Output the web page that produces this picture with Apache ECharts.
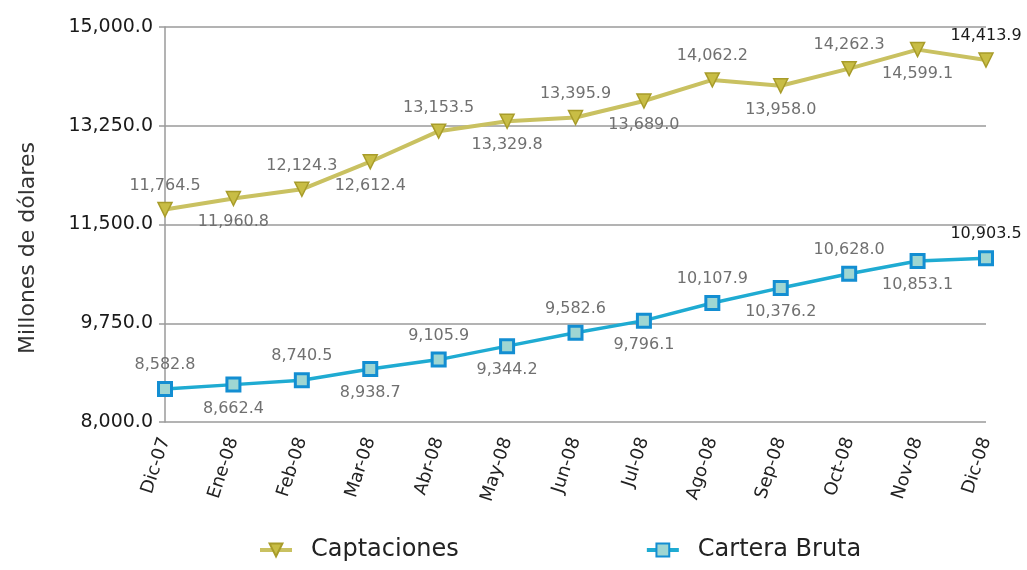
<!DOCTYPE html>
<html>
<head>
<meta charset="utf-8">
<script src="https://cdn.jsdelivr.net/npm/echarts@6/dist/echarts.min.js"></script>
<style>
  html, body { margin: 0; padding: 0; background: #fff; }
  #chart { width: 1027px; height: 570px; }
</style>
</head>
<body>
<div id="chart"></div>
<script>
const months = ['Dic-07', 'Ene-08', 'Feb-08', 'Mar-08', 'Abr-08', 'May-08', 'Jun-08',
  'Jul-08', 'Ago-08', 'Sep-08', 'Oct-08', 'Nov-08', 'Dic-08'];
const captaciones = [11764.5, 11960.8, 12124.3, 12612.4, 13153.5, 13329.8, 13395.9,
  13689.0, 14062.2, 13958.0, 14262.3, 14599.1, 14413.9];
const carteraBruta = [8582.8, 8662.4, 8740.5, 8938.7, 9105.9, 9344.2, 9582.6,
  9796.1, 10107.9, 10376.2, 10628.0, 10853.1, 10903.5];
const yTicks = [8000, 9750, 11500, 13250, 15000];

const font = 'DejaVu Sans';
const fmt = (v) => v.toLocaleString('en-US', { minimumFractionDigits: 1, maximumFractionDigits: 1 });

// labels alternate above / below the points, last one is darker
const withLabels = (values) => values.map((v, i) => ({
  value: v,
  label: {
    position: i % 2 === 0 ? 'top' : 'bottom',
    color: i === values.length - 1 ? '#1a1a1a' : '#707070'
  }
}));

const chart = echarts.init(document.getElementById('chart'));
chart.setOption({
  animation: false,
  textStyle: { fontFamily: font },
  grid: { left: 165, right: 41, top: 27, bottom: 148 },
  legend: {
    left: 253,
    bottom: 3,
    itemGap: 186,
    itemWidth: 32,
    itemHeight: 16,
    lineStyle: { width: 4 },
    textStyle: { fontSize: 24, color: '#222', fontFamily: font, padding: [0, 0, 0, 14] },
    data: ['Captaciones', 'Cartera Bruta']
  },
  xAxis: {
    type: 'category',
    data: months,
    boundaryGap: false,
    axisLine: { show: false },
    axisTick: { show: false },
    axisLabel: { rotate: 72, margin: 16, fontSize: 18, color: '#222', fontFamily: font }
  },
  yAxis: {
    type: 'value',
    min: yTicks[0],
    max: yTicks[yTicks.length - 1],
    interval: yTicks[1] - yTicks[0],
    axisLine: { show: true, lineStyle: { color: '#9a9a9a', width: 1.5 } },
    axisTick: { show: true, length: 6, lineStyle: { color: '#9a9a9a', width: 1.5 } },
    splitLine: { lineStyle: { color: '#9a9a9a', width: 1.5 } },
    axisLabel: { fontSize: 19, color: '#1a1a1a', margin: 12, fontFamily: font, formatter: fmt }
  },
  graphic: [{
    type: 'text',
    x: 28,
    y: 248,
    rotation: Math.PI / 2,
    style: {
      text: 'Millones de dólares',
      fontSize: 22,
      fontFamily: font,
      fill: '#333',
      align: 'center',
      verticalAlign: 'middle'
    }
  }],
  series: [
    {
      name: 'Captaciones',
      type: 'line',
      data: withLabels(captaciones),
      symbol: 'triangle',
      symbolRotate: 180,
      symbolSize: 14,
      lineStyle: { color: '#c9c161', width: 4 },
      itemStyle: { color: '#c8bd45', borderColor: '#a89c2a', borderWidth: 1.5 },
      label: { show: true, distance: 8, fontSize: 16, fontFamily: font, formatter: (p) => fmt(p.value) }
    },
    {
      name: 'Cartera Bruta',
      type: 'line',
      data: withLabels(carteraBruta),
      symbol: 'rect',
      symbolSize: 13,
      lineStyle: { color: '#1fabd2', width: 3.5 },
      itemStyle: { color: '#9fd6d2', borderColor: '#138ed2', borderWidth: 3 },
      label: { show: true, distance: 8, fontSize: 16, fontFamily: font, formatter: (p) => fmt(p.value) }
    }
  ]
});
</script>
</body>
</html>
